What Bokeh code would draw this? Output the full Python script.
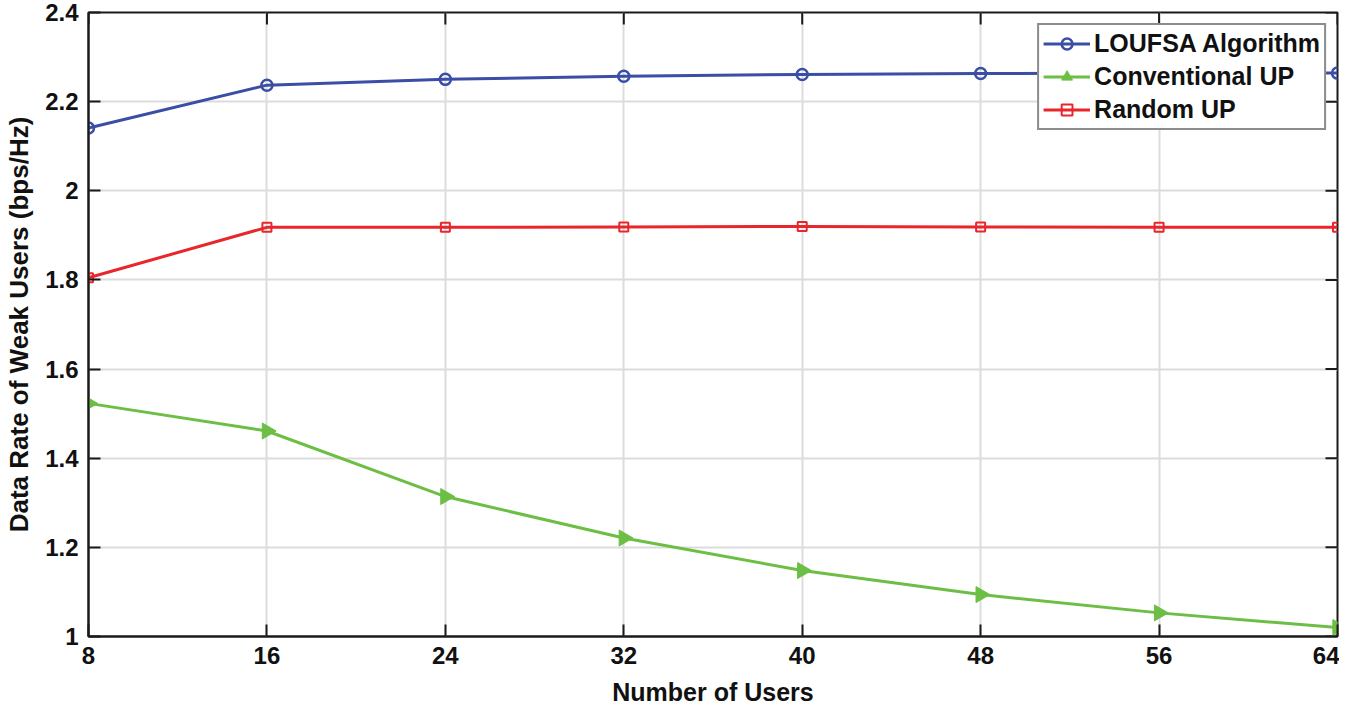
import numpy as np
from bokeh.plotting import figure
from bokeh.models import FixedTicker, Range1d, Legend, LegendItem
from bokeh.embed import file_html
from bokeh.resources import INLINE

users = [8, 16, 24, 32, 40, 48, 56, 64]
loufsa = [2.141, 2.237, 2.250, 2.257, 2.261, 2.263, 2.264, 2.264]
conventional = [1.523, 1.461, 1.314, 1.221, 1.148, 1.094, 1.053, 1.020]
random_up = [1.805, 1.918, 1.918, 1.919, 1.920, 1.919, 1.918, 1.918]

x_ticks = [8, 16, 24, 32, 40, 48, 56, 64]
y_ticks = [1.0, 1.2, 1.4, 1.6, 1.8, 2.0, 2.2, 2.4]
y_tick_labels = ["1", "1.2", "1.4", "1.6", "1.8", "2", "2.2", "2.4"]

FONT = "Liberation Sans"
BLUE = "#3A4EA6"
GREEN = "#6CBE45"
RED = "#E8262B"
DARK = "#1a1a1a"

p = figure(width=1339, height=708, output_backend="svg", toolbar_location=None,
           x_range=Range1d(x_ticks[0], x_ticks[-1]), y_range=Range1d(y_ticks[0], y_ticks[-1]),
           min_border_left=88, min_border_right=2, min_border_top=12, min_border_bottom=72)

p.outline_line_color = DARK
p.outline_line_width = 2
p.outline_line_alpha = 1

for ax in (p.xaxis[0], p.yaxis[0]):
    ax.axis_line_color = DARK
    ax.axis_line_width = 2
    ax.major_tick_in = 12
    ax.major_tick_out = 0
    ax.major_tick_line_width = 2
    ax.major_tick_line_color = DARK
    ax.minor_tick_line_color = None
    ax.major_label_text_font = FONT
    ax.major_label_text_font_style = "bold"
    ax.major_label_text_font_size = "24px"
    ax.major_label_text_color = "#111111"
    ax.axis_label_text_font = FONT
    ax.axis_label_text_font_style = "bold"
    ax.axis_label_text_color = "#111111"

p.xaxis[0].ticker = FixedTicker(ticks=x_ticks)
p.yaxis[0].ticker = FixedTicker(ticks=y_ticks)
p.yaxis[0].major_label_overrides = {t: l for t, l in zip(y_ticks, y_tick_labels)}
p.xaxis[0].axis_label = "Number of Users"
p.yaxis[0].axis_label = "Data Rate of Weak Users (bps/Hz)"
p.xaxis[0].axis_label_text_font_size = "25px"
p.yaxis[0].axis_label_text_font_size = "26px"
p.xaxis[0].major_label_standoff = 10
p.xaxis[0].axis_label_standoff = 11
p.yaxis[0].major_label_standoff = 10
p.yaxis[0].axis_label_standoff = 8

p.xgrid.ticker = FixedTicker(ticks=x_ticks)
p.ygrid.ticker = FixedTicker(ticks=y_ticks)
p.grid.grid_line_color = "#DCDCDC"
p.grid.grid_line_width = 2

# mirrored inward ticks on the top and right edges (half of each dash is clipped by the frame)
p.scatter(x_ticks, [y_ticks[-1]] * len(x_ticks), marker="dash", angle=np.pi / 2, size=24,
          line_color=DARK, line_width=2)
p.scatter([x_ticks[-1]] * len(y_ticks), y_ticks, marker="dash", size=24,
          line_color=DARK, line_width=2)

l1 = p.line(users, loufsa, line_color=BLUE, line_width=3)
m1 = p.scatter(users, loufsa, marker="circle", size=11, line_color=BLUE, line_width=2.5,
               fill_color="white", fill_alpha=0)
l2 = p.line(users, conventional, line_color=GREEN, line_width=3)
m2 = p.scatter(users, conventional, marker="triangle", angle=-np.pi / 2, size=16,
               line_color=GREEN, fill_color=GREEN, line_width=1)
l3 = p.line(users, random_up, line_color=RED, line_width=3)
m3 = p.scatter(users, random_up, marker="square", size=9, line_color=RED, line_width=2,
               fill_color="white", fill_alpha=0)

legend = Legend(items=[
    LegendItem(label="LOUFSA Algorithm", renderers=[l1, m1]),
    LegendItem(label="Conventional UP", renderers=[l2, m2]),
    LegendItem(label="Random UP", renderers=[l3, m3]),
], location="top_right")
legend.margin = 11
legend.padding = 4
legend.spacing = 4
legend.glyph_width = 47
legend.glyph_height = 27
legend.label_height = 27
legend.label_standoff = 4
legend.label_text_font = FONT
legend.label_text_font_style = "bold"
legend.label_text_font_size = "25px"
legend.label_text_color = "#111111"
legend.border_line_color = DARK
legend.border_line_width = 2
legend.background_fill_color = "white"
legend.background_fill_alpha = 1
p.add_layout(legend)

open("out.html", "w").write(file_html(p, INLINE))
